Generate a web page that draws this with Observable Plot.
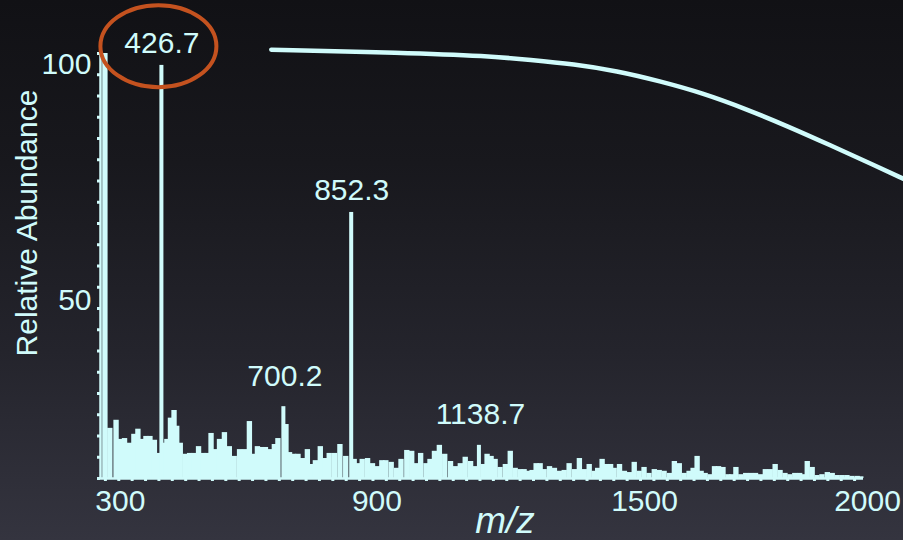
<!DOCTYPE html>
<html>
<head>
<meta charset="utf-8">
<script src="https://cdn.jsdelivr.net/npm/d3@7"></script>
<script src="https://cdn.jsdelivr.net/npm/@observablehq/plot@0.6"></script>
<style>
  html, body { margin: 0; padding: 0; }
  body {
    width: 903px; height: 540px; overflow: hidden;
    background: linear-gradient(to bottom, #111115 0%, #18181d 30%, #24242c 65%, #34343f 100%);
  }
  #chart svg { display: block; }
</style>
</head>
<body>
<div id="chart"></div>
<script>
// Mass spectrum: centroid m/z positions and relative abundance (%)
const spectrumMz = [
  300, 311, 325, 335, 344, 355, 365, 374, 383, 392, 401, 411, 418,
  432, 439, 447, 455, 461, 469, 480, 490, 500, 510, 520, 529, 538, 548, 557,
  568, 579, 590, 602, 613, 624, 633, 642, 651, 660, 669, 680, 688,
  706, 714, 723, 733, 743, 754, 763, 772, 783, 793, 803, 815, 827, 840,
  859, 868, 877, 889, 900, 911, 921, 930, 942, 954, 964, 977, 988, 997,
  1008, 1020, 1029, 1039, 1050, 1062, 1075, 1086, 1097, 1108, 1120, 1129,
  1148, 1157, 1166, 1175, 1186, 1198, 1209, 1220, 1231, 1240, 1249, 1258,
  1267, 1276, 1285, 1297, 1308, 1319, 1330, 1341, 1353, 1364, 1375, 1386,
  1397, 1405, 1415, 1425, 1434, 1442, 1454, 1465, 1476, 1487, 1498, 1509,
  1520, 1532, 1543, 1554, 1566, 1577, 1588, 1599, 1610, 1619, 1628, 1637,
  1646, 1657, 1667, 1676, 1686, 1697, 1706, 1715, 1726, 1737, 1748, 1759,
  1770, 1781, 1792, 1803, 1814, 1825, 1836, 1847, 1858, 1866, 1875, 1886,
  1897, 1908, 1920, 1931, 1942, 1953, 1964, 1975, 1987, 1995
];
const spectrumAbundance = [
  100, 11.8, 13.7, 9.2, 9.4, 8.3, 10.4, 11.6, 9.2, 9.9, 9.9, 9.0, 5.9,
  8.3, 9.2, 14.2, 16.0, 12.3, 8.3, 5.7, 5.9, 5.9, 7.5, 5.9, 5.9, 10.6, 6.8, 9.2,
  10.8, 7.5, 5.2, 6.8, 6.8, 13.4, 5.7, 7.5, 7.3, 7.3, 6.8, 8.0, 9.4,
  12.7, 6.1, 5.7, 5.7, 4.7, 6.8, 3.3, 4.2, 7.5, 4.7, 5.9, 5.9, 8.0, 5.2,
  4.5, 3.5, 4.5, 4.7, 3.5, 2.8, 4.2, 4.2, 3.8, 2.4, 4.5, 6.6, 6.4, 3.5,
  5.9, 3.5, 4.5, 6.4, 7.8, 5.7, 4.0, 2.8, 3.5, 5.0, 4.0, 2.8,
  3.3, 5.7, 5.2, 4.5, 2.6, 3.3, 6.4, 2.4, 2.1, 2.1, 1.7, 1.9,
  3.5, 3.5, 2.1, 2.8, 2.4, 1.7, 1.9, 3.5, 2.1, 4.7, 2.1, 3.3,
  1.7, 2.4, 4.5, 3.3, 3.3, 2.4, 3.3, 1.7, 1.4, 3.8, 1.7, 2.6,
  1.2, 2.1, 1.9, 1.7, 1.2, 4.0, 3.5, 1.2, 1.7, 2.4, 5.2, 1.7,
  1.2, 0.9, 2.8, 2.8, 2.6, 0.9, 0.9, 2.6, 0.9, 1.2, 1.2, 1.2,
  0.9, 2.1, 2.1, 3.3, 1.9, 1.2, 0.9, 1.2, 1.2, 0.9, 4.0, 2.6,
  0.7, 0.9, 1.4, 1.2, 0.7, 0.7, 0.7, 0.5, 0.5, 0.4
];

// Annotated ions
const labeledMz = [426.7, 852.3, 700.2, 1138.7];
const labeledAbundance = [97.2, 62.6, 16.9, 7.8];

// Overlaid response curve
const curveMz = [672, 966, 1158, 1254, 1350, 1447, 1543, 1639, 1735, 1832, 1928, 2024, 2090];
const curveValue = [100.9, 100.2, 99.4, 98.5, 97.5, 95.9, 93.5, 90.7, 87.0, 82.8, 78.3, 73.7, 70.5];

// Axis labels
const xTickLabels = [300, 900, 1500, 2000];
const yTickLabels = [50, 100];

const ink = "#d0fbfb";
const halo = "#c4521f";

const noise = spectrumMz.map((mz, i) => ({mz, abundance: spectrumAbundance[i]}));
const peaks = labeledMz.map((mz, i) => ({mz, abundance: labeledAbundance[i]}));
const curve = curveMz.map((mz, i) => ({mz, value: curveValue[i]}));

// Ellipse drawn around the base-peak label
const highlight = (index, scales) =>
  d3.create("svg:ellipse")
    .attr("cx", scales.x(426.7) - 3)
    .attr("cy", scales.y(101.6))
    .attr("rx", 58)
    .attr("ry", 41)
    .attr("fill", "none")
    .attr("stroke", halo)
    .attr("stroke-width", 4)
    .node();

const plain = d => String(d);

const chart = Plot.plot({
  width: 903,
  height: 540,
  marginLeft: 100,
  marginRight: 40,
  marginTop: 53,
  marginBottom: 62,
  x: {domain: [289, 2000], label: null},
  y: {domain: [0, 100], label: null},
  style: {
    background: "transparent",
    color: ink,
    fontFamily: "'Liberation Sans', Arial, sans-serif",
    overflow: "visible"
  },
  marks: [
    // spectrum sticks
    Plot.rectY(noise, {x1: d => d.mz - 6, x2: d => d.mz + 6, y: "abundance", fill: ink}),
    Plot.rectY(peaks, {x1: d => d.mz - 4.5, x2: d => d.mz + 4.5, y: "abundance", fill: ink}),

    // axis lines with minor ticks
    Plot.ruleY([0], {stroke: ink, strokeWidth: 2.5}),
    Plot.ruleX([289], {y1: 0, y2: 100, stroke: ink, strokeWidth: 2.5}),
    Plot.axisY(d3.range(0, 101, 5), {tickSize: 3, strokeWidth: 3, tickFormat: () => ""}),
    Plot.axisX(d3.range(300, 2001, 30), {tickSize: 3, strokeWidth: 3, tickFormat: () => ""}),

    // tick labels
    Plot.axisY(yTickLabels.filter(v => v === 100), {tickSize: 0, tickPadding: 9, dy: 11, fontSize: 30, tickFormat: plain}),
    Plot.axisY(yTickLabels.filter(v => v === 50), {tickSize: 0, tickPadding: 9, dy: 34, fontSize: 30, tickFormat: plain}),
    Plot.axisX(xTickLabels.filter(v => v === 300), {tickSize: 0, tickPadding: 11, dx: 15, fontSize: 30, tickFormat: plain}),
    Plot.axisX(xTickLabels.filter(v => v !== 300), {tickSize: 0, tickPadding: 11, dx: 4, fontSize: 30, tickFormat: plain}),

    // axis titles
    Plot.text(["Relative Abundance"], {
      text: d => d, frameAnchor: "left", textAnchor: "middle", lineAnchor: "middle",
      dx: -73, dy: -43, rotate: -90, fontSize: 30, fill: ink
    }),
    Plot.text(["m/z"], {
      text: d => d, frameAnchor: "bottom", textAnchor: "middle", lineAnchor: "middle",
      dx: 23, dy: 43, fontSize: 37, fontStyle: "italic", fill: ink
    }),

    // peak labels
    Plot.text(peaks.slice(0, 2), {x: "mz", y: "abundance", text: d => d.mz.toFixed(1), lineAnchor: "bottom", dy: -12, fontSize: 30, fill: ink}),
    Plot.text(peaks.slice(2), {x: "mz", y: "abundance", text: d => d.mz.toFixed(1), lineAnchor: "bottom", dy: -21, dx: 1, fontSize: 30, fill: ink}),

    // response curve
    Plot.line(curve, {x: "mz", y: "value", stroke: ink, strokeWidth: 4.5, curve: "basis"}),

    highlight
  ]
});

document.getElementById("chart").appendChild(chart);
</script>
</body>
</html>
